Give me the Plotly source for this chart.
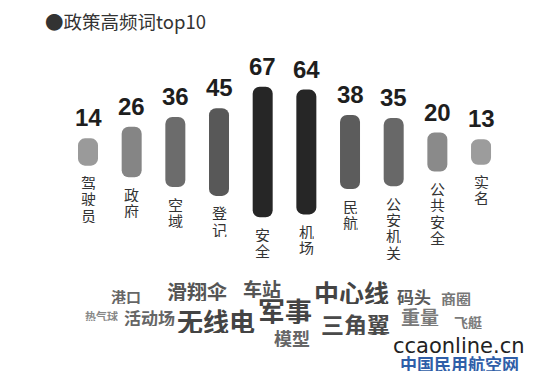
import plotly.graph_objects as go

# ---- data ----
categories = ["驾驶员", "政府", "空域", "登记", "安全", "机场", "民航", "公安机关", "公共安全", "实名"]
counts = [14, 26, 36, 45, 67, 64, 38, 35, 20, 13]
bar_colors = ["#9a9a9a", "#858585", "#6c6c6c", "#585858", "#262626",
              "#262626", "#5c5c5c", "#686868", "#8a8a8a", "#9c9c9c"]

cloud_words = ["港口", "滑翔伞", "车站", "中心线", "码头", "商圈", "热气球", "活动场",
               "无线电", "军事", "三角翼", "重量", "飞艇", "模型"]
# layout of the word cloud (pixel centre x, y, font size, colour)
cloud_layout = [
    (126, 296, 15, "#666666"),
    (197, 291, 20, "#555555"),
    (262, 288, 19, "#555555"),
    (351, 291, 25, "#444444"),
    (414, 296, 17, "#5a5a5a"),
    (456, 298, 15, "#777777"),
    (101, 315, 11, "#888888"),
    (149, 317, 17, "#666666"),
    (216, 320, 26, "#444444"),
    (285, 310, 27, "#444444"),
    (355, 323, 23, "#4a4a4a"),
    (420, 316, 19, "#7a7a7a"),
    (468, 322, 14, "#7a7a7a"),
    (292, 338, 18, "#666666"),
]

W, H = 546, 391
x0_px, dx_px = 88, 43.67
y0_px, dy_px = 152, 1.95

xr = [-x0_px / dx_px, (W - x0_px) / dx_px]
yr = [-(H - y0_px) / dy_px, y0_px / dy_px]

xs = list(range(len(categories)))
fig = go.Figure()
fig.add_trace(go.Bar(
    x=xs, y=counts, base=[-v / 2 for v in counts],
    width=20 / dx_px, marker=dict(color=bar_colors, line=dict(width=0)),
    hoverinfo="skip",
))

ann = []
cjk = "Noto Sans CJK SC"
for i, (c, v) in enumerate(zip(categories, counts)):
    ann.append(dict(x=i, y=v / 2, xref="x", yref="y", text=str(v), showarrow=False,
                    yanchor="bottom", yshift=5,
                    font=dict(family="Liberation Sans", size=24, color="#1e1e1e", weight="bold")))
    for k, ch in enumerate(c):
        ann.append(dict(x=i, y=-v / 2, xref="x", yref="y", text=ch, showarrow=False,
                        yanchor="top", yshift=-(7.5 + k * 16.3), height=16, borderpad=0,
                        font=dict(family=cjk, size=15, color="#333333")))

def px(xp, yp):
    return xp / W, 1 - yp / H

# title
tx, ty = px(43, 21)
ann.append(dict(x=tx, y=ty, xref="paper", yref="paper", xanchor="left", yanchor="middle",
                text="●政策高频词top10", showarrow=False,
                font=dict(family=cjk, size=18.5, color="#333333")))

for w, (cx, cy, fs, col) in zip(cloud_words, cloud_layout):
    ax, ay = px(cx, cy)
    ann.append(dict(x=ax, y=ay, xref="paper", yref="paper", xanchor="center", yanchor="middle",
                    text=w, showarrow=False, height=fs, borderpad=0,
                    font=dict(family=cjk, size=fs, color=col, weight="bold")))

ax, ay = px(459, 345)
ann.append(dict(x=ax, y=ay, xref="paper", yref="paper", xanchor="center", yanchor="middle",
                text="ccaonline.cn", showarrow=False, height=17, borderpad=0,
                font=dict(family="DejaVu Sans", size=21, color="#222222")))
ax, ay = px(459, 363)
ann.append(dict(x=ax, y=ay, xref="paper", yref="paper", xanchor="center", yanchor="middle",
                text="中国民用航空网", showarrow=False, height=16, borderpad=0,
                font=dict(family=cjk, size=17, color="#2f5ea8", weight="bold")))

fig.update_layout(
    width=W, height=H, margin=dict(l=0, r=0, t=0, b=0),
    paper_bgcolor="white", plot_bgcolor="white",
    showlegend=False, barcornerradius=7,
    xaxis=dict(range=xr, visible=False, fixedrange=True),
    yaxis=dict(range=yr, visible=False, fixedrange=True),
    annotations=ann,
)
fig.write_html("out.html")
